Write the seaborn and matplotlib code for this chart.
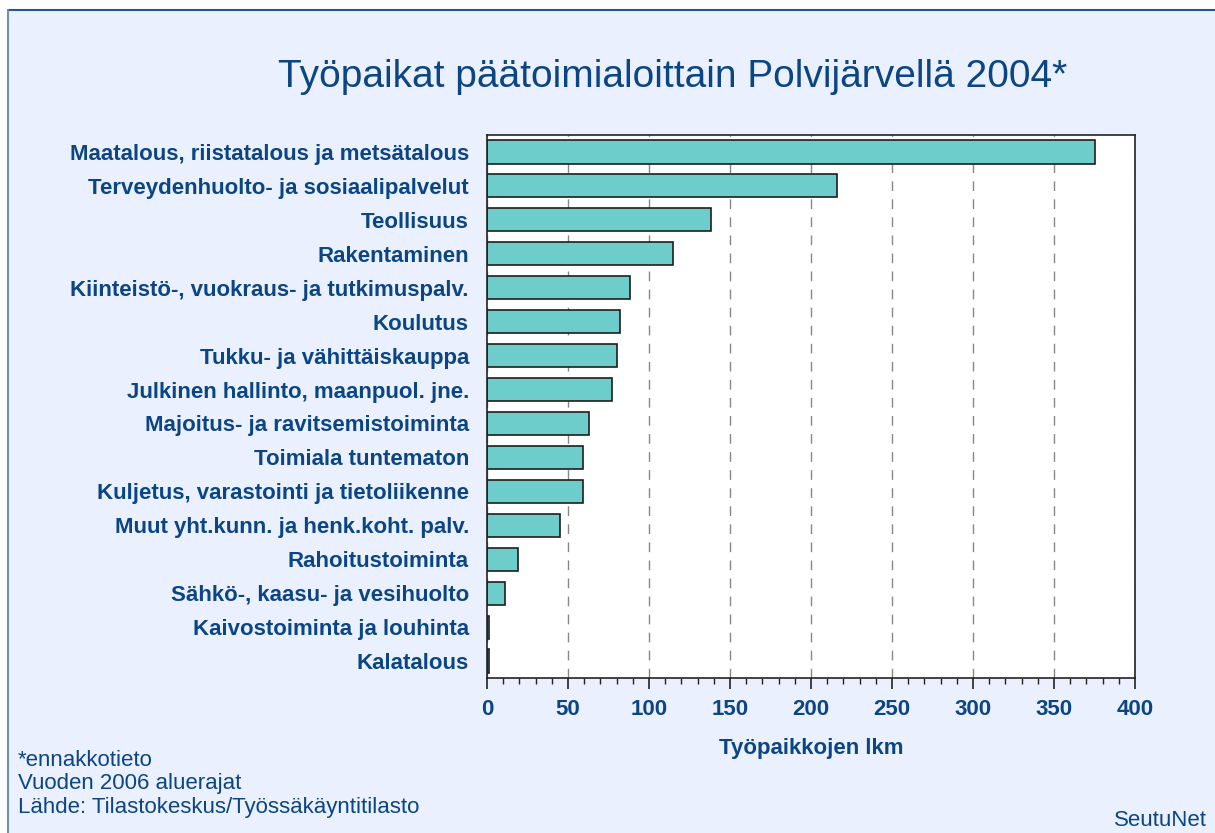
import matplotlib
matplotlib.use("Agg")
import matplotlib.pyplot as plt
from matplotlib.patches import Rectangle
from matplotlib.lines import Line2D
from matplotlib.ticker import MultipleLocator
import seaborn as sns
import pandas as pd

# Data
categories = [
    "Maatalous, riistatalous ja metsätalous",
    "Terveydenhuolto- ja sosiaalipalvelut",
    "Teollisuus",
    "Rakentaminen",
    "Kiinteistö-, vuokraus- ja tutkimuspalv.",
    "Koulutus",
    "Tukku- ja vähittäiskauppa",
    "Julkinen hallinto, maanpuol. jne.",
    "Majoitus- ja ravitsemistoiminta",
    "Toimiala tuntematon",
    "Kuljetus, varastointi ja tietoliikenne",
    "Muut yht.kunn. ja henk.koht. palv.",
    "Rahoitustoiminta",
    "Sähkö-, kaasu- ja vesihuolto",
    "Kaivostoiminta ja louhinta",
    "Kalatalous",
]
jobs = [375, 216, 138, 115, 88, 82, 80, 77, 63, 59, 59, 45, 19, 11, 1, 1]
x_ticks = [0, 50, 100, 150, 200, 250, 300, 350, 400]

df = pd.DataFrame({"toimiala": categories, "lkm": jobs})

sns.set_theme(style="white")
plt.rcParams["font.family"] = ["Liberation Sans", "DejaVu Sans"]

text_col = "#0B4584"
bg_col = "#EAF0FE"
bar_col = "#6DCDCA"

fig = plt.figure(figsize=(12.15, 8.33), dpi=100)
fig.patch.set_facecolor("white")

# light blue panel with blue top/left border
W, H = 1215, 833
fig.patches.append(Rectangle((8 / W, 0), 1, 1 - 10 / H, transform=fig.transFigure,
                             facecolor=bg_col, edgecolor="none", zorder=-5))
fig.lines.append(Line2D([8 / W, 1], [1 - 10 / H, 1 - 10 / H], transform=fig.transFigure,
                        color="#1F5A96", lw=1.5, zorder=-4))
fig.lines.append(Line2D([8 / W, 8 / W], [0, 1 - 10 / H], transform=fig.transFigure,
                        color="#6F8FB5", lw=1.5, zorder=-4))

ax = fig.add_axes([487 / W, 1 - 678 / H, (1135 - 487) / W, (678 - 135) / H])
ax.set_zorder(2)
ax.set_facecolor("white")

sns.barplot(data=df, x="lkm", y="toimiala", orient="h", color=bar_col,
            edgecolor="#1E1E1E", linewidth=1.2, width=0.68, saturation=1, ax=ax)

ax.set_xlim(0, 400)
ax.set_ylim(len(categories) - 0.5, -0.5)
ax.set_xticks(x_ticks)
ax.xaxis.set_minor_locator(MultipleLocator(10))
ax.grid(axis="x", which="major", color="#888888", linestyle=(0, (7, 6)), linewidth=1)
ax.set_axisbelow(True)

for s in ax.spines.values():
    s.set_color("#222222")
    s.set_linewidth(1.2)

ax.tick_params(axis="x", which="major", direction="out", length=8, width=1.2,
               color="#222222", bottom=True, pad=7)
ax.tick_params(axis="x", which="minor", direction="out", length=4, width=1,
               color="#222222", bottom=True)
ax.tick_params(axis="y", length=0, pad=13)
for lab in ax.get_xticklabels():
    lab.set_fontsize(16)
    lab.set_fontweight("bold")
    lab.set_color(text_col)
for lab in ax.get_yticklabels():
    lab.set_fontsize(16)
    lab.set_fontweight("bold")
    lab.set_color(text_col)

ax.set_ylabel("")
ax.set_xlabel("Työpaikkojen lkm", fontsize=16, fontweight="bold", color=text_col, labelpad=13)

fig.text(673 / W, 1 - 77 / H, "Työpaikat päätoimialoittain Polvijärvellä 2004*",
         ha="center", va="center", fontsize=28, color=text_col)

foot = ["*ennakkotieto", "Vuoden 2006 aluerajat", "Lähde: Tilastokeskus/Työssäkäyntitilasto"]
for i, t in enumerate(foot):
    fig.text(18 / W, 1 - (760 + i * 24) / H, t, ha="left", va="center",
             fontsize=16, color=text_col)
fig.text(1207 / W, 1 - 820 / H, "SeutuNet", ha="right", va="center",
         fontsize=16, color=text_col)

fig.savefig("out.png", dpi=100, facecolor=fig.get_facecolor())
